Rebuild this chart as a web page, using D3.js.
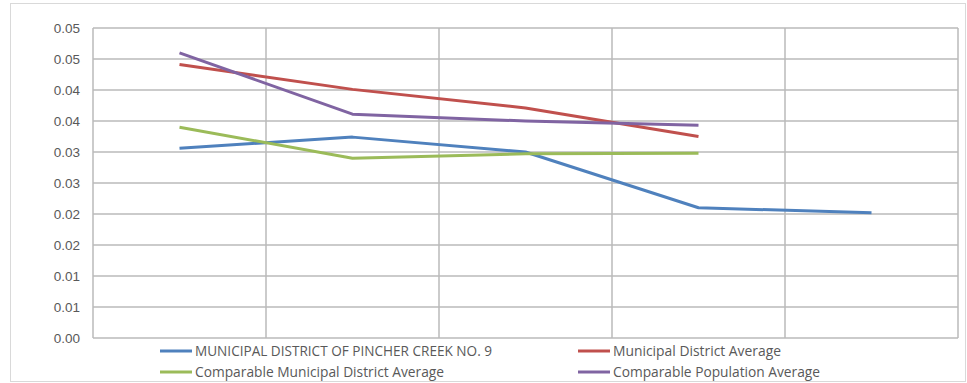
<!DOCTYPE html>
<html>
<head>
<meta charset="utf-8">
<script src="https://cdn.jsdelivr.net/npm/d3@7"></script>
<style>
  html, body { margin: 0; padding: 0; background: #fff; }
  svg { display: block; font-family: "Open Sans", "Noto Sans", sans-serif; }
</style>
</head>
<body>
<svg id="chart" width="967" height="383"></svg>
<script>
// Periods along the x axis (unlabelled in the chart)
const categories = ["1", "2", "3", "4", "5"];

// Series values per period (null = no value)
const pincherCreek   = [0.0306, 0.0324, 0.0300, 0.0210, 0.0202];
const mdAverage      = [0.0441, 0.0401, 0.0371, 0.0325, null];
const comparableMD   = [0.0340, 0.0290, 0.0297, 0.0298, null];
const comparablePop  = [0.0460, 0.0361, 0.0350, 0.0343, null];

// Y-axis ticks and their printed labels
const yTickValues = [0, 0.005, 0.01, 0.015, 0.02, 0.025, 0.03, 0.035, 0.04, 0.045, 0.05];
const yTickLabels = ["0.00", "0.01", "0.01", "0.02", "0.02", "0.03", "0.03", "0.04", "0.04", "0.05", "0.05"];

const seriesNames  = ["MUNICIPAL DISTRICT OF PINCHER CREEK NO. 9", "Municipal District Average",
                      "Comparable Municipal District Average", "Comparable Population Average"];
const seriesValues = [pincherCreek, mdAverage, comparableMD, comparablePop];
const seriesColors = ["#4F81BD", "#C0504D", "#9BBB59", "#8064A2"];

const svg = d3.select("#chart");
const plot = { left: 93, right: 958, top: 28, bottom: 338 };

// outer chart frame
svg.append("rect")
  .attr("x", 10.5).attr("y", 3.5).attr("width", 955).attr("height", 378)
  .attr("fill", "#fff").attr("stroke", "#d9d9d9").attr("stroke-width", 1);

const x = d3.scaleBand().domain(categories).range([plot.left, plot.right]).padding(0);
const y = d3.scaleLinear().domain([0, 0.05]).range([plot.bottom, plot.top]);

// horizontal gridlines
svg.append("g").selectAll("line").data(yTickValues).join("line")
  .attr("x1", plot.left).attr("x2", plot.right)
  .attr("y1", d => y(d)).attr("y2", d => y(d))
  .attr("stroke", "#bababa").attr("stroke-width", 1.5);

// vertical gridlines at category boundaries
const edges = categories.map(c => x(c)).concat([x(categories[categories.length - 1]) + x.bandwidth()]);
svg.append("g").selectAll("line").data(edges).join("line")
  .attr("x1", d => d).attr("x2", d => d)
  .attr("y1", plot.top).attr("y2", plot.bottom)
  .attr("stroke", "#bababa").attr("stroke-width", 1.5);

// y axis labels
const yAxis = d3.axisLeft(y)
  .tickValues(yTickValues)
  .tickFormat((d, i) => yTickLabels[i])
  .tickSize(0).tickPadding(13);
const gy = svg.append("g").attr("transform", `translate(${plot.left},0)`).call(yAxis);
gy.select(".domain").remove();
gy.selectAll("text").attr("fill", "#595959").attr("font-size", 13.5);

// series lines
const line = d3.line()
  .defined(d => d != null)
  .x((d, i) => x(categories[i]) + x.bandwidth() / 2)
  .y(d => y(d));

seriesValues.forEach((vals, k) => {
  svg.append("path")
    .datum(vals)
    .attr("d", line)
    .attr("fill", "none")
    .attr("stroke", seriesColors[k])
    .attr("stroke-width", 3)
    .attr("stroke-linejoin", "round");
});

// legend: two rows, two columns
const legendPos = [
  { x: 160, y: 351, w: 297 },
  { x: 578, y: 351, w: 168 },
  { x: 160, y: 372, w: 249 },
  { x: 578, y: 372, w: 207 }
];
const legend = svg.append("g");
seriesNames.forEach((name, k) => {
  const p = legendPos[k];
  legend.append("line")
    .attr("x1", p.x).attr("x2", p.x + 32)
    .attr("y1", p.y).attr("y2", p.y)
    .attr("stroke", seriesColors[k]).attr("stroke-width", 3);
  legend.append("text")
    .attr("x", p.x + 35).attr("y", p.y)
    .attr("dy", "0.35em")
    .attr("font-size", 14)
    .attr("fill", "#595959")
    .attr("textLength", p.w)
    .attr("lengthAdjust", "spacingAndGlyphs")
    .text(name);
});
</script>
</body>
</html>
